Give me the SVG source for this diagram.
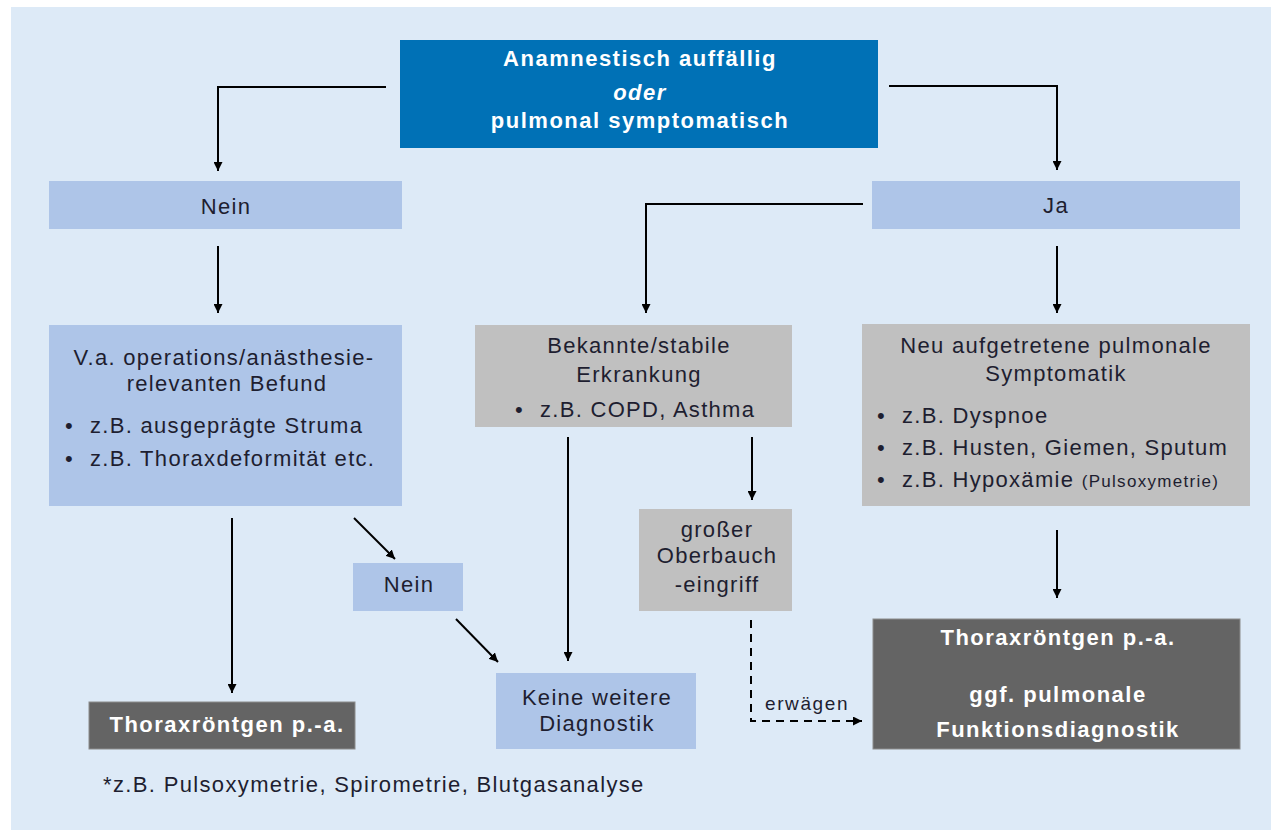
<svg xmlns="http://www.w3.org/2000/svg" width="1271" height="830" viewBox="0 0 1271 830">
<defs>
<marker id="ah" viewBox="0 0 10 10" refX="10" refY="5" markerWidth="9" markerHeight="9" markerUnits="userSpaceOnUse" orient="auto">
<path d="M0,0 L10,5 L0,10 z" fill="#000"/>
</marker>
<style>
.t{font-family:"Liberation Sans",Arial,sans-serif;font-size:22px;fill:#1e1e30;letter-spacing:1.3px}
.c{text-anchor:middle}
.w{fill:#ffffff;font-weight:bold;letter-spacing:1.5px}
.lb{fill:#aec5e8}
.gr{fill:#c0c0c0}
.dk{fill:#646464;stroke:#8c8c8c;stroke-width:1}
.ln{fill:none;stroke:#000;stroke-width:2;marker-end:url(#ah)}
.ds{fill:none;stroke:#000;stroke-width:2;stroke-dasharray:8,6;marker-end:url(#ah)}
</style>
</defs>
<rect x="0" y="0" width="1271" height="830" fill="#ffffff"/>
<rect x="11" y="7" width="1260" height="823" fill="#ddeaf7"/>

<g id="connectors">
<polyline class="ln" points="386,87 218,87 218,171"/>
<polyline class="ln" points="889,86 1057,86 1057,170"/>
<polyline class="ln" points="863,204 646,204 646,313"/>
<line class="ln" x1="1057" y1="246" x2="1057" y2="313"/>
<line class="ln" x1="218" y1="246" x2="218" y2="313"/>
<line class="ln" x1="232" y1="518" x2="232" y2="693"/>
<line class="ln" x1="354" y1="518" x2="395" y2="559"/>
<line class="ln" x1="456" y1="619" x2="498" y2="662"/>
<line class="ln" x1="568" y1="437" x2="568" y2="661"/>
<line class="ln" x1="752" y1="437" x2="752" y2="500"/>
<line class="ln" x1="1057" y1="530" x2="1057" y2="598"/>
<polyline class="ds" points="751,620 751,721 862,721"/>
<text class="t" x="765" y="710" style="font-size:19px;letter-spacing:1.6px">erwägen</text>
</g>

<g id="start">
<rect x="400" y="40" width="478" height="108" fill="#0071b6"/>
<text class="t c w" x="640" y="66">Anamnestisch auffällig</text>
<text class="t c w" x="640" y="100" font-style="italic">oder</text>
<text class="t c w" x="640" y="128">pulmonal symptomatisch</text>
</g>

<g id="nein-top">
<rect class="lb" x="49" y="181" width="353" height="48"/>
<text class="t c" x="226" y="214">Nein</text>
</g>

<g id="ja">
<rect class="lb" x="872" y="181" width="368" height="48"/>
<text class="t c" x="1056" y="213">Ja</text>
</g>

<g id="befund">
<rect class="lb" x="49" y="325" width="353" height="181"/>
<text class="t c" x="224" y="365">V.a. operations/anästhesie-</text>
<text class="t c" x="227" y="391">relevanten Befund</text>
<text class="t" x="65" y="433">•</text>
<text class="t" x="90" y="433">z.B. ausgeprägte Struma</text>
<text class="t" x="65" y="466">•</text>
<text class="t" x="90" y="466">z.B. Thoraxdeformität etc.</text>
</g>

<g id="bekannt">
<rect class="gr" x="475" y="325" width="317" height="102"/>
<text class="t c" x="639" y="353">Bekannte/stabile</text>
<text class="t c" x="639" y="382">Erkrankung</text>
<text class="t" x="515" y="417">•</text>
<text class="t" x="540" y="417">z.B. COPD, Asthma</text>
</g>

<g id="neu">
<rect class="gr" x="862" y="324" width="388" height="182"/>
<text class="t c" x="1056" y="353">Neu aufgetretene pulmonale</text>
<text class="t c" x="1056" y="381">Symptomatik</text>
<text class="t" x="877" y="423">•</text>
<text class="t" x="902" y="423">z.B. Dyspnoe</text>
<text class="t" x="877" y="455">•</text>
<text class="t" x="902" y="455">z.B. Husten, Giemen, Sputum</text>
<text class="t" x="877" y="487">•</text>
<text class="t" x="902" y="487">z.B. Hypoxämie <tspan style="font-size:17px;letter-spacing:1.3px">(Pulsoxymetrie)</tspan></text>
</g>

<g id="oberbauch">
<rect class="gr" x="639" y="509" width="153" height="102"/>
<text class="t c" x="717" y="537">großer</text>
<text class="t c" x="717" y="563">Oberbauch</text>
<text class="t c" x="717" y="592">-eingriff</text>
</g>

<g id="nein-mid">
<rect class="lb" x="353" y="563" width="110" height="48"/>
<text class="t c" x="409" y="592">Nein</text>
</g>

<g id="keine">
<rect class="lb" x="496" y="673" width="200" height="76"/>
<text class="t c" x="597" y="705">Keine weitere</text>
<text class="t c" x="597" y="731">Diagnostik</text>
</g>

<g id="thorax-left">
<rect class="dk" x="89" y="702" width="266" height="47"/>
<text class="t c w" x="227" y="732">Thoraxröntgen p.-a.</text>
</g>

<g id="thorax-right">
<rect class="dk" x="873" y="619" width="367" height="130"/>
<text class="t c w" x="1058" y="645">Thoraxröntgen p.-a.</text>
<text class="t c w" x="1058" y="702">ggf. pulmonale</text>
<text class="t c w" x="1058" y="737">Funktionsdiagnostik</text>
</g>

<g id="footnote">
<text class="t" x="103" y="792" style="letter-spacing:1.35px">*z.B. Pulsoxymetrie, Spirometrie, Blutgasanalyse</text>
</g>
</svg>
